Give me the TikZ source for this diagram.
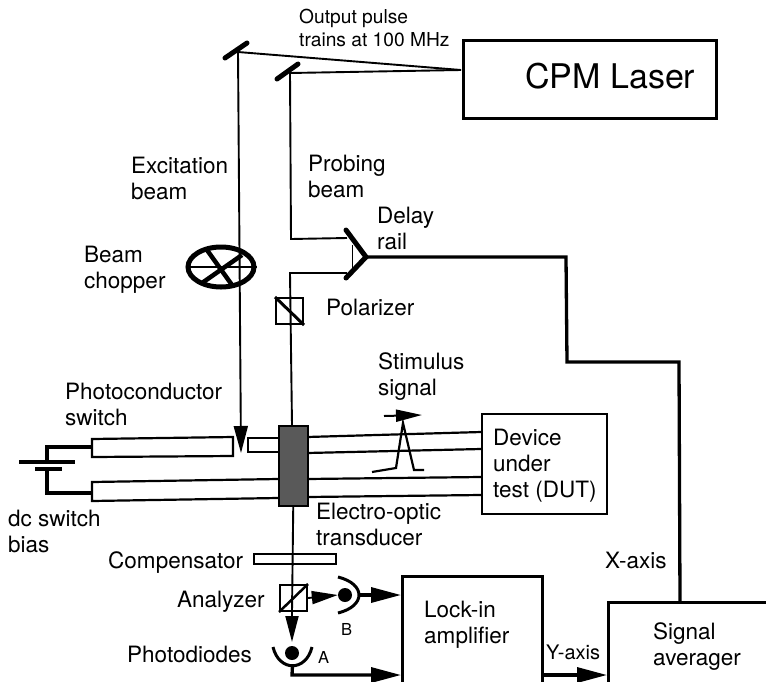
\documentclass[tikz,border=0pt]{standalone}
\usepackage{fontspec}
\setmainfont{TeX Gyre Heros}
\usetikzlibrary{arrows.meta}
\usetikzlibrary{shapes.geometric}
\tikzset{
	beam/.style={line width=1.9pt},
	wire/.style={line width=3.3pt},
	strip/.style={line width=2.2pt},
	beam arrow/.style={beam, -{Triangle[length=27pt, width=14pt]}},
	wire arrow/.style={wire, -{Triangle[length=30pt, width=15pt]}},
	lbl/.style={font=\fontsize{22.5}{26}\selectfont, align=left, anchor=base west, inner sep=0pt},
	unit/.style={draw, wire, rectangle, anchor=north west, inner sep=0pt},
	cube/.style={draw, line width=2pt, rectangle, anchor=north west, inner sep=0pt, minimum width=27pt, minimum height=26pt},
	diode/.style={circle, fill=black, inner sep=0pt, minimum size=14pt}
}
\begin{document}
\begin{tikzpicture}[x=1pt, y=-1pt]
	\clip (0, 0) rectangle (766, 681);
	% units
	\node[unit, minimum width=253pt, minimum height=78pt] (laser) at (462, 39) {};
	\node[unit, line width=2.2pt, minimum width=125pt, minimum height=100pt] (dut) at (481, 413) {};
	\node[unit, minimum width=140pt, minimum height=160pt] (lockin) at (401, 575) {};
	\node[unit, minimum width=200pt, minimum height=140pt] (averager) at (607, 601) {};
	% optics
	\node[cube] (polarizer) at (275, 297) {};
	\node[cube] (analyzer) at (279, 584) {};
	\node[draw, line width=2pt, rectangle, anchor=north west, inner sep=0pt, minimum width=82pt, minimum height=10pt] (compensator) at (253, 553) {};
	\node[draw, line width=5pt, ellipse, inner sep=0pt, minimum width=66pt, minimum height=40pt] (chopper) at (221, 267) {};
	\coordinate (mirror a) at (238, 52);
	\coordinate (mirror b) at (290, 73);
	\coordinate (laser out) at (461, 70);
	\coordinate (retro top) at (346, 230);
	\coordinate (retro tip) at (366, 257);
	\coordinate (retro low) at (346, 278);
	\coordinate (gap top) at (241, 453);
	% beams
	\draw[beam] (laser out) -- (mirror a);
	\draw[beam] (laser out) -- (mirror b);
	\draw[line width=5pt, line cap=round] (225, 58) -- (247, 43);
	\draw[line width=5pt, line cap=round] (277, 79) -- (298, 64);
	\draw[beam arrow] (mirror a) -- (gap top);
	\draw[beam] (mirror b) -- (291, 239) -- (347, 238);
	\draw[beam] (347, 273) -- (290, 273) -- (292, 425);
	\draw[line width=5pt, line cap=round] (retro top) -- (retro tip) -- (retro low);
	\draw[line width=1pt] (352, 245) -- (352, 270);
	\draw[wire] (retro tip) -- (566, 257) -- (567, 362) -- (679, 362) -- (680, 601);
	% chopper blades
	\draw[line width=2pt] (chopper.west) -- (chopper.east);
	\draw[line width=4.5pt] (207, 250) -- (232, 285);
	\draw[line width=4.5pt] (202, 283) -- (242, 255);
	% cube faces
	\draw[line width=3pt] (polarizer.north west) -- (polarizer.south east);
	\draw[line width=2.5pt] (analyzer.south west) -- (analyzer.north east);
	% strip lines
	\draw[strip] (278, 438) -- (248, 438) -- (248, 452) -- (278, 452);
	\draw[strip] (233, 437) -- (92, 439) -- (92, 457) -- (233, 456) -- cycle;
	\draw[strip] (278, 479) -- (92, 482) -- (92, 501) -- (278, 498);
	\draw[strip] (307, 437) -- (dut.west |- 0, 432);
	\draw[strip] (307, 453) -- (dut.west |- 0, 449);
	\draw[strip] (307, 479) -- (dut.west |- 0, 477);
	\draw[strip] (307, 497) -- (dut.west |- 0, 495);
	\node[draw, line width=1.5pt, fill=black!65, rectangle, anchor=north west, inner sep=0pt, minimum width=29pt, minimum height=80pt] (transducer) at (278, 425) {};
	\draw[beam] (transducer.south) -- (analyzer.south -| 292, 0);
	% bias
	\draw[wire] (19, 462) -- (75, 462);
	\draw[wire] (35, 469) -- (62, 469);
	\draw[wire] (47, 462) -- (47, 447) -- (92, 447);
	\draw[wire] (47, 469) -- (47, 493) -- (92, 493);
	% stimulus pulse
	\draw[line width=2.2pt] (372, 472) -- (396, 468) -- (403, 423) -- (414, 470) -- (424, 470);
	\draw[line width=2pt, -{Triangle[length=26pt, width=12pt]}] (384, 416) -- (422, 415);
	% photodiodes
	\node[diode] (diode b) at (345, 595) {};
	\node[diode] (diode a) at (292, 653) {};
	\draw[line width=3pt] (338, 577) .. controls (366, 584) and (366, 606) .. (338, 613) coordinate[pos=0.5] (diode b out);
	\draw[line width=3pt] (273, 647) .. controls (279, 672) and (306, 672) .. (312, 647) coordinate[pos=0.5] (diode a out);
	\draw[beam arrow, -{Triangle[length=26pt, width=13pt]}] (analyzer.east) -- (diode b.west);
	\draw[beam arrow, -{Triangle[length=26pt, width=13pt]}] (292, 610) -- (292, 642);
	\draw[wire arrow] (diode b out) -- (lockin.west |- 0, 595);
	\draw[wire arrow] (diode a out) -- (292, 675) -- (lockin.west |- 0, 675);
	\draw[wire arrow] (lockin.east |- 0, 675) -- (averager.west |- 0, 675);
	% labels
	\node[lbl, font=\fontsize{19.2}{23}\selectfont] (output) at (299, 46) {Output pulse\\trains at 100 MHz};
	\node[lbl, font=\fontsize{34}{40}\selectfont] (laser text) at (525, 88) {CPM Laser};
	\node[lbl] (excitation) at (131, 199) {Excitation\\beam};
	\node[lbl] (probing) at (308, 197) {Probing\\beam};
	\node[lbl] (delay) at (377, 249) {Delay\\rail};
	\node[lbl] (chopper text) at (84, 288) {Beam\\chopper};
	\node[lbl] (polarizer text) at (326, 315) {Polarizer};
	\node[lbl] (stimulus) at (378, 395) {Stimulus\\signal};
	\node[lbl] (switch) at (65, 425) {Photoconductor\\switch};
	\node[lbl] (bias) at (8, 552) {dc switch\\bias};
	\node[lbl] (transducer text) at (316, 545) {Electro-optic\\transducer};
	\node[lbl] (compensator text) at (108, 568) {Compensator};
	\node[lbl] (analyzer text) at (177, 607) {Analyzer};
	\node[lbl] (diodes text) at (127, 662) {Photodiodes};
	\node[lbl, font=\fontsize{16.5}{20}\selectfont] (b text) at (341, 635) {B};
	\node[lbl, font=\fontsize{16.5}{20}\selectfont] (a text) at (318, 663) {A};
	\node[lbl] (dut text) at (493, 497) {Device\\under\\test (DUT)};
	\node[lbl] (lockin text) at (424, 643) {Lock-in\\amplifier};
	\node[lbl] (averager text) at (653, 665) {Signal\\averager};
	\node[lbl, font=\fontsize{20}{24}\selectfont] (y text) at (546, 659) {Y-axis};
	\node[lbl] (x text) at (605, 568) {X-axis};
\end{tikzpicture}
\end{document}
